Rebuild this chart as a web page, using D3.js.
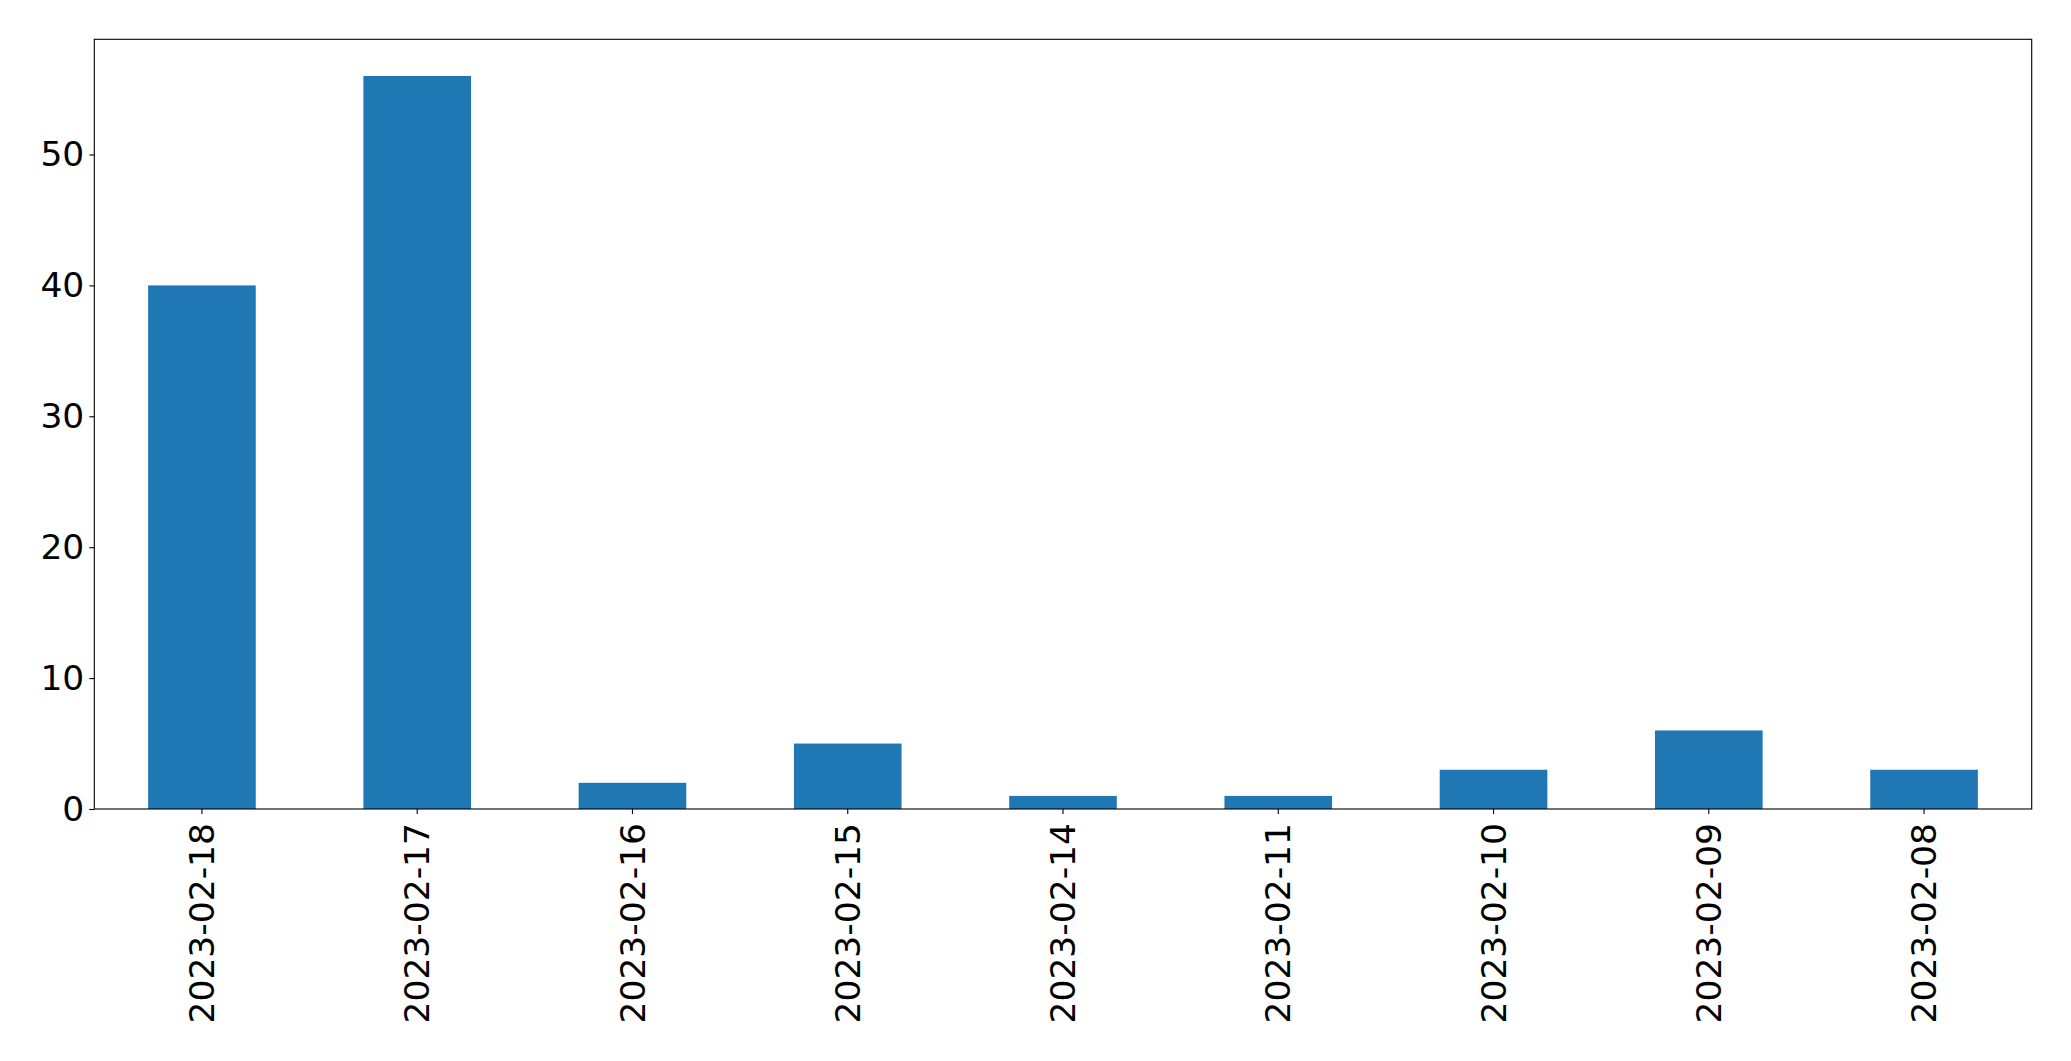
<!DOCTYPE html>
<html><head><meta charset="utf-8">
<script src="https://cdn.jsdelivr.net/npm/d3@7"></script>
<style>html,body{margin:0;padding:0;background:#fff;overflow:hidden}</style>
</head><body>
<svg id="chart" width="2071" height="1061"></svg>
<script>
const categories = ["2023-02-18","2023-02-17","2023-02-16","2023-02-15","2023-02-14","2023-02-11","2023-02-10","2023-02-09","2023-02-08"];
const values = [40, 56, 2, 5, 1, 1, 3, 6, 3];
const yTicks = [0, 10, 20, 30, 40, 50];

const W = 2071, H = 1061;
const m = {left: 94.3, right: 2071 - 2031.7, top: 39.3, bottom: H - 809};
const svg = d3.select("#chart");
const font = "'DejaVu Sans', sans-serif";
const fs = 34.5;

const x = d3.scaleBand().domain(categories).range([m.left, W - m.right]).paddingInner(0.5).paddingOuter(0.25);
const y = d3.scaleLinear().domain([0, d3.max(values) * 1.05]).range([H - m.bottom, m.top]);

svg.append("g").selectAll("rect").data(values).join("rect")
  .attr("x", (d, i) => x(categories[i]))
  .attr("width", x.bandwidth())
  .attr("y", d => y(d))
  .attr("height", d => y(0) - y(d))
  .attr("fill", "#1f77b4");

// frame
svg.append("rect").attr("x", m.left).attr("y", m.top)
  .attr("width", W - m.right - m.left).attr("height", H - m.bottom - m.top)
  .attr("fill", "none").attr("stroke", "#000").attr("stroke-width", 1.1);

const yAxis = svg.append("g").attr("transform", `translate(${m.left},0)`)
  .call(d3.axisLeft(y).tickValues(yTicks).tickSize(5).tickPadding(5).tickFormat(d3.format("d")));
yAxis.select(".domain").remove();
yAxis.selectAll("line").attr("stroke", "#000").attr("stroke-width", 1.1);
yAxis.selectAll("text").attr("font-family", font).attr("font-size", fs).attr("fill", "#000");

const xAxis = svg.append("g").attr("transform", `translate(0,${H - m.bottom})`)
  .call(d3.axisBottom(x).tickSize(5).tickPadding(5));
xAxis.select(".domain").remove();
xAxis.selectAll("line").attr("stroke", "#000").attr("stroke-width", 1.1);
xAxis.selectAll("text").attr("font-family", font).attr("font-size", fs).attr("fill", "#000")
  .attr("transform", "rotate(-90)")
  .attr("text-anchor", "end")
  .attr("dy", "0.35em")
  .attr("x", -14)
  .attr("y", 0);
</script>
</body></html>
